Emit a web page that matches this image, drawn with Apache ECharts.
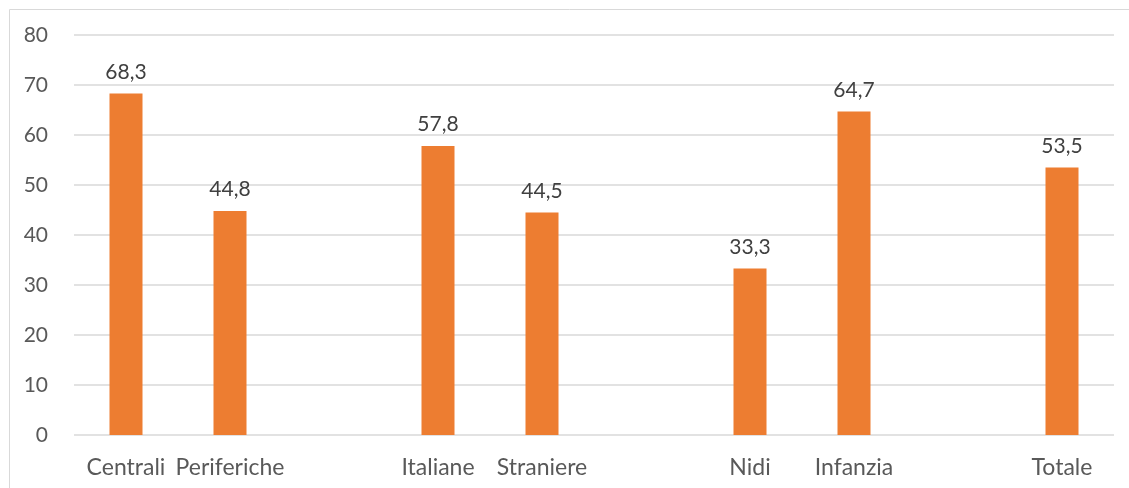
<!DOCTYPE html>
<html><head><meta charset="utf-8">
<script src="https://cdn.jsdelivr.net/npm/echarts@6/dist/echarts.min.js"></script>
<style>html,body{margin:0;padding:0;background:#fff}#c{width:1129px;height:488px}</style>
</head><body><div id="c"></div>
<script>
const categories = ['Centrali','Periferiche','','Italiane','Straniere','','Nidi','Infanzia','','Totale'];
const values = [68.3, 44.8, null, 57.8, 44.5, null, 33.3, 64.7, null, 53.5];
const yTicks = {min:0, max:80, interval:10};
const font = 'Lato, "Open Sans", sans-serif';
const chart = echarts.init(document.getElementById('c'));
chart.setOption({
  animation:false,
  graphic:[{type:'rect',shape:{x:9.5,y:9.5,width:1200,height:600},style:{fill:'none',stroke:'#d9d9d9',lineWidth:1},silent:true,z:-1}],
  grid:{left:74,right:15,top:35,bottom:53},
  xAxis:{type:'category',data:categories,
    axisLine:{show:false},axisTick:{show:false},
    axisLabel:{color:'#595959',fontSize:23,fontFamily:font,interval:0,margin:21}},
  yAxis:{type:'value',min:yTicks.min,max:yTicks.max,interval:yTicks.interval,
    axisLine:{show:false},axisTick:{show:false},
    splitLine:{lineStyle:{color:'#d9d9d9',width:1.5}},
    axisLabel:{color:'#595959',fontSize:21,fontFamily:font,margin:26}},
  series:[{type:'bar',data:values,barWidth:33,
    itemStyle:{color:'#ED7D31'},
    label:{show:true,position:'top',distance:11,color:'#404040',fontSize:21,fontFamily:font,
      formatter:p=>p.value==null?'':String(p.value.toFixed(1)).replace('.',',')}}]
});
</script></body></html>
